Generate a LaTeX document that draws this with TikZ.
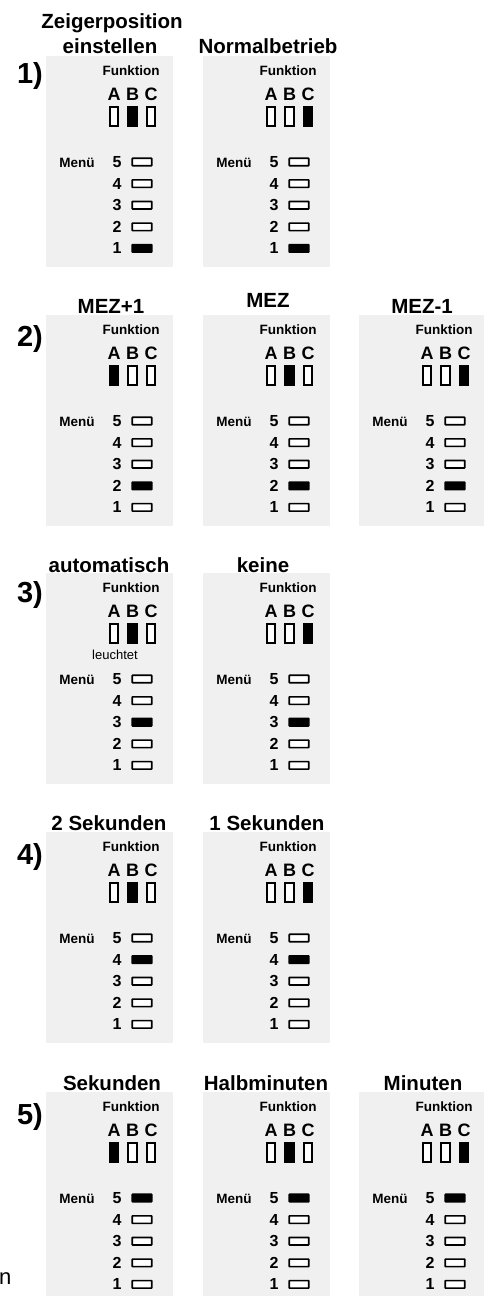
\documentclass[tikz,border=0pt]{standalone}
\usepackage{fontspec}
\setmainfont{Liberation Sans}
\usetikzlibrary{positioning}

\definecolor{panelgray}{HTML}{F0F0F0}

\tikzset{
  panel/.style={fill=panelgray, draw=none, anchor=north west,
    minimum width=127pt, minimum height=211pt, inner sep=0pt},
  title/.style={font=\bfseries\fontsize{20.5}{24}\selectfont, inner sep=0pt, anchor=base},
  rowlabel/.style={font=\bfseries\fontsize{29}{30}\selectfont, inner sep=0pt},
  fkt/.style={font=\bfseries\fontsize{13.5}{14}\selectfont, inner sep=0pt},
  letter/.style={font=\bfseries\fontsize{18}{18}\selectfont, inner sep=0pt},
  digit/.style={font=\bfseries\fontsize{16}{16}\selectfont, inner sep=0pt},
  note/.style={font=\fontsize{13}{14}\selectfont, inner sep=0pt},
  lampoff/.style={draw=black, line width=1.6pt, fill=white, inner sep=0pt,
    minimum width=8.5pt, minimum height=19.5pt},
  lampon/.style={lampoff, fill=black},
  baroff/.style={draw=black, line width=1.6pt, fill=white, inner sep=0pt,
    rounded corners=0.4pt, minimum width=19.5pt, minimum height=7.5pt},
  baron/.style={baroff, fill=black},
}

\begin{document}
\begin{tikzpicture}[x=1pt,y=-1pt]
\useasboundingbox (0,0) rectangle (483,1296);

% Panels: name/left/top/lit lamp/lit menu
\foreach \p/\lx/\ty/\lamp/\menu in {p1a/46/56/2/1, p1b/203/56/3/1,
    p2a/46/315/1/2, p2b/203/315/2/2, p2c/359/315/3/2,
    p3a/46/573/2/3, p3b/203/573/3/3,
    p4a/46/832/2/4, p4b/203/832/3/4,
    p5a/46/1092/1/5, p5b/203/1092/2/5, p5c/359/1092/3/5}{
  \node [panel] (\p) at (\lx,\ty) {};
  \node [fkt] (\p-fkt) at ({\lx+85},{\ty+15}) {Funktion};
  % Lamps A B C
  \foreach \l/\dx [count=\i] in {A/68,B/86.5,C/105}{
    \node [letter] (\p-\l) at ({\lx+\dx},{\ty+38}) {\l};
    \ifnum\i=\lamp \def\st{lampon}\else\def\st{lampoff}\fi
    \node [\st] (\p-lamp\l) at ({\lx+\dx},{\ty+60.5}) {};
  }
  % Menu bars 5 .. 1
  \node [fkt] (\p-menu) at ({\lx+31},{\ty+107}) {Menü};
  \foreach \m in {5,4,3,2,1}{
    \pgfmathsetmacro\my{\ty+106+(5-\m)*21.6}
    \node [digit] (\p-\m) at ({\lx+71},\my) {\m};
    \ifnum\m=\menu \def\st{baron}\else\def\st{baroff}\fi
    \node [\st] (\p-bar\m) at ({\lx+96},\my) {};
  }
}

\node [note] (p3a-note) at (115,655) {leuchtet};

% Titles
\node [title] (t1a-top) at (112,28) {Zeigerposition};
\node [title] (t1a) at (110,53) {einstellen};
\node [title] (t1b) at (268,53) {Normalbetrieb};
\node [title] (t2a) at (111,313) {MEZ+1};
\node [title] (t2b) at (268,307) {MEZ};
\node [title] (t2c) at (422,313) {MEZ-1};
\node [title] (t3a) at (109,572) {automatisch};
\node [title] (t3b) at (263,572) {keine};
\node [title] (t4a) at (109,830) {2 Sekunden};
\node [title] (t4b) at (267,830) {1 Sekunden};
\node [title] (t5a) at (112,1090) {Sekunden};
\node [title] (t5b) at (266,1090) {Halbminuten};
\node [title] (t5c) at (423,1090) {Minuten};

% Row numbers
\node [rowlabel] (r1) at (30,76) {1)};
\node [rowlabel] (r2) at (30,339) {2)};
\node [rowlabel] (r3) at (30,595) {3)};
\node [rowlabel] (r4) at (30,857) {4)};
\node [rowlabel] (r5) at (30,1117) {5)};

\node [font=\fontsize{22}{22}\selectfont, inner sep=0pt, anchor=base west] (cut) at (-1,1284) {n};

\end{tikzpicture}
\end{document}
